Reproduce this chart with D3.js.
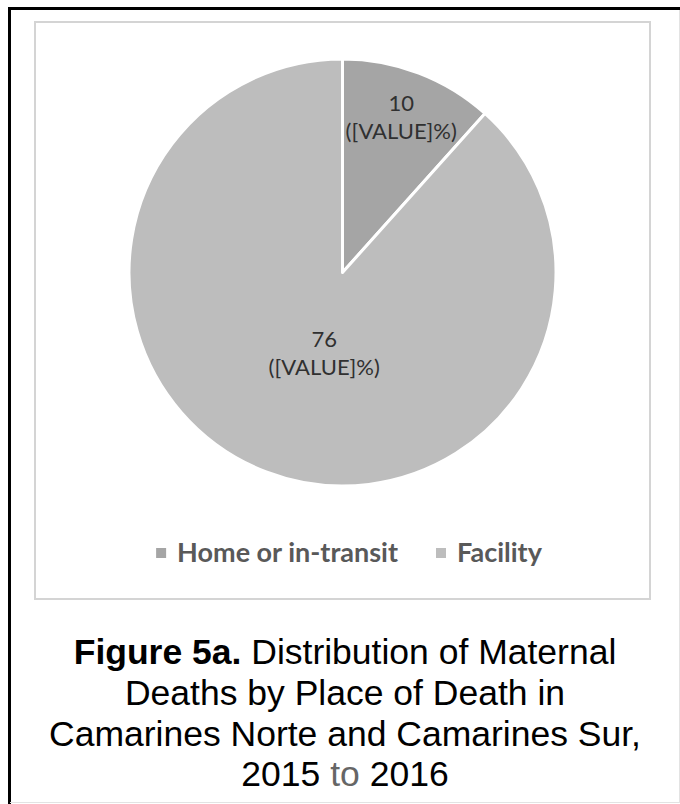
<!DOCTYPE html>
<html lang="en">
<head>
    <meta charset="UTF-8">
    <title>Figure 5a - Maternal Deaths by Place of Death</title>
    <style>
        body {
            margin: 0;
            padding: 0;
            background: #fff;
        }
        svg {
            display: block;
        }
    </style>
</head>
<body>
    <div id="chart"></div>
    <script src="https://d3js.org/d3.v7.min.js"></script>
    <script>
        // data
        const categories = ['Home or in-transit', 'Facility'];
        const deaths = [10, 76];
        const percentLabel = '([VALUE]%)';
        const colors = ['#a5a5a5', '#bdbdbd'];
        const captionLines = [
            'Deaths by Place of Death in',
            'Camarines Norte and Camarines Sur,'
        ];

        const width = 680;
        const height = 804;

        const svg = d3.select('#chart')
            .append('svg')
            .attr('width', width)
            .attr('height', height);

        svg.append('rect')
            .attr('width', width)
            .attr('height', height)
            .attr('fill', '#fff');

        // outer frame: dark on top/left, faint on right/bottom
        svg.append('line')
            .attr('x1', 9.5).attr('y1', 7)
            .attr('x2', 9.5).attr('y2', height)
            .attr('stroke', '#000').attr('stroke-width', 3);
        svg.append('line')
            .attr('x1', 8).attr('y1', 8.5)
            .attr('x2', width).attr('y2', 8.5)
            .attr('stroke', '#000').attr('stroke-width', 3);
        svg.append('line')
            .attr('x1', 679.5).attr('y1', 10)
            .attr('x2', 679.5).attr('y2', 802)
            .attr('stroke', '#e3e3e3').attr('stroke-width', 1);
        svg.append('line')
            .attr('x1', 10).attr('y1', 802.5)
            .attr('x2', width).attr('y2', 802.5)
            .attr('stroke', '#e3e3e3').attr('stroke-width', 1);

        // chart area box
        svg.append('rect')
            .attr('x', 35)
            .attr('y', 22)
            .attr('width', 615)
            .attr('height', 577)
            .attr('fill', 'none')
            .attr('stroke', '#d4d4d4')
            .attr('stroke-width', 2);

        // pie
        const cx = 342.5, cy = 272.5, R = 213.5;
        const pie = d3.pie().sort(null).value(d => d.value);
        const slices = pie(categories.map((c, i) => ({ name: c, value: deaths[i], color: colors[i] })));
        const arc = d3.arc().innerRadius(0).outerRadius(R);

        const g = svg.append('g').attr('transform', `translate(${cx},${cy})`);

        g.selectAll('path')
            .data(slices)
            .enter().append('path')
            .attr('d', arc)
            .attr('fill', d => d.data.color)
            .attr('stroke', '#fff')
            .attr('stroke-width', 3)
            .attr('stroke-linejoin', 'round');

        // small slices: label near the rim, big slice: label pulled toward centre
        const labelPos = d => {
            const big = (d.endAngle - d.startAngle) > Math.PI;
            const r = big ? R * 0.4 : R * 0.77;
            const p = d3.arc().innerRadius(r).outerRadius(r).centroid(d);
            return big ? [p[0] * 0.6, p[1] + 3] : p;
        };

        const labels = g.selectAll('text.label')
            .data(slices)
            .enter().append('text')
            .attr('class', 'label')
            .attr('text-anchor', 'middle')
            .style('font-family', 'Lato, sans-serif')
            .style('font-size', '22px')
            .attr('fill', '#303030');

        labels.append('tspan')
            .attr('x', d => labelPos(d)[0])
            .attr('y', d => labelPos(d)[1] - 8)
            .text(d => d.data.value);
        labels.append('tspan')
            .attr('x', d => labelPos(d)[0])
            .attr('y', d => labelPos(d)[1] + 20)
            .text(percentLabel);

        // legend
        const legend = svg.append('g');
        const items = legend.selectAll('g')
            .data(categories)
            .enter().append('g');

        items.append('rect')
            .attr('width', 10)
            .attr('height', 10)
            .attr('y', 548)
            .attr('fill', (d, i) => colors[i]);

        items.append('text')
            .attr('x', 21)
            .attr('y', 562)
            .style('font-family', 'Lato, sans-serif')
            .style('font-weight', 'bold')
            .style('font-size', '27px')
            .attr('fill', '#595959')
            .text(d => d);

        let offset = 0;
        const gap = 38;
        items.each(function() {
            const w = 21 + d3.select(this).select('text').node().getComputedTextLength();
            d3.select(this).attr('transform', `translate(${offset},0)`);
            offset += w + gap;
        });
        const legendW = offset - gap;
        legend.attr('transform', `translate(${349 - legendW / 2},0)`);

        // caption
        const caption = svg.append('g')
            .style('font-family', '"Liberation Sans", Arial, sans-serif')
            .style('font-size', '35.5px')
            .attr('fill', '#000')
            .attr('text-anchor', 'middle');

        const l1 = caption.append('text').attr('x', 345).attr('y', 664);
        l1.append('tspan').style('font-weight', 'bold').text('Figure 5a.');
        l1.append('tspan').text(' Distribution of Maternal');

        captionLines.forEach((line, i) => {
            caption.append('text')
                .attr('x', 345)
                .attr('y', 705 + i * 41)
                .text(line);
        });

        const l4 = caption.append('text').attr('x', 345).attr('y', 786);
        l4.append('tspan').text('2015 ');
        l4.append('tspan').attr('fill', '#666').text('to');
        l4.append('tspan').text(' 2016');
    </script>
</body>
</html>
